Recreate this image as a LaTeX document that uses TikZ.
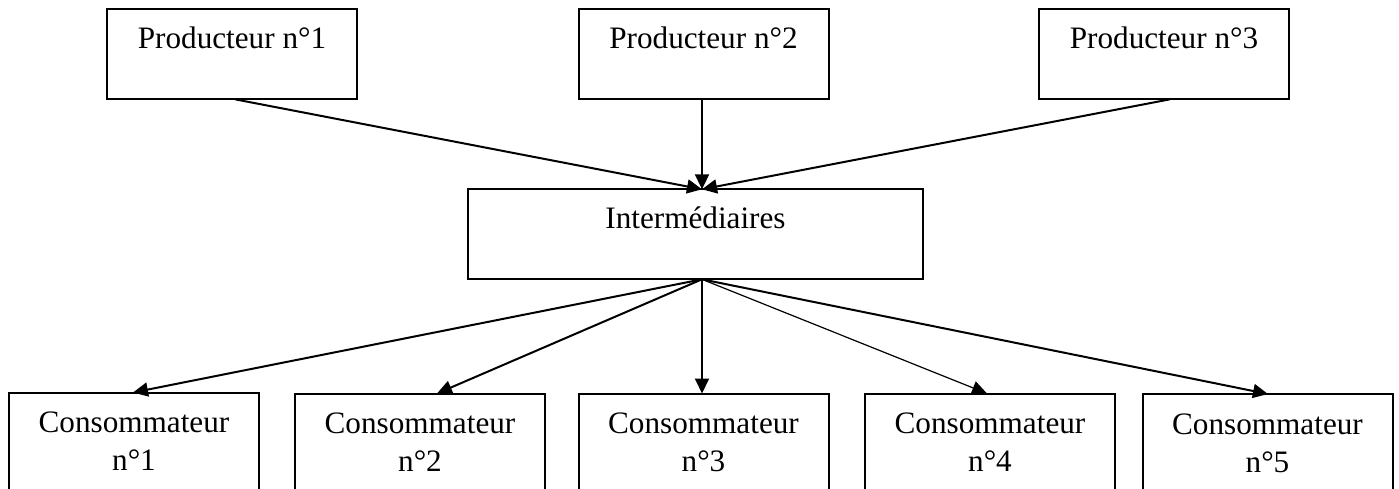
\documentclass[tikz,border=0pt]{standalone}
\usepackage{fontspec}
\setmainfont{Liberation Serif}
\usetikzlibrary{arrows.meta}
\begin{document}
\begin{tikzpicture}[x=0.5pt,y=-0.5pt,
  box/.style={draw, line width=1pt, inner sep=0pt, outer sep=0pt,
    minimum width=125pt, text height=19.5pt, text depth=25.5pt,
    font=\fontsize{15.6pt}{19.2pt}\selectfont, anchor=north},
  cbox/.style={box, text height=20pt, text depth=60pt},
  arr/.style={line width=1pt, -{Triangle[length=7.5pt,width=7pt]}}]
\useasboundingbox (0,0) rectangle (1399,488);
\clip (0,0) rectangle (1399,488);
% producers
\node[box] (p1) at (232,9.3) {Producteur n°1};
\node[box] (p2) at (703.5,9.3) {Producteur n°2};
\node[box] (p3) at (1164,9.3) {Producteur n°3};
% intermediaries
\node[box, minimum width=227.5pt] (inter) at (695.5,189.3) {Intermédiaires};
% consumers
\node[cbox] (c1) at (134,392.5) {\parbox[t]{120pt}{\centering Consommateur\\n°1}};
\node[cbox] (c2) at (420,393.5) {\parbox[t]{120pt}{\centering Consommateur\\n°2}};
\node[cbox] (c3) at (703.5,393.5) {\parbox[t]{120pt}{\centering Consommateur\\n°3}};
\node[cbox] (c4) at (990,393.5) {\parbox[t]{120pt}{\centering Consommateur\\n°4}};
\node[cbox] (c5) at (1267.5,394) {\parbox[t]{120pt}{\centering Consommateur\\n°5}};
% arrows to intermediaries
\draw[arr] ([xshift=1.5pt]p1.south) -- ([xshift=3.25pt]inter.north);
\draw[arr] ([xshift=-0.75pt]p2.south) -- ([xshift=3.25pt]inter.north);
\draw[arr] ([xshift=3pt]p3.south) -- ([xshift=3.25pt]inter.north);
% arrows to consumers
\draw[arr] ([xshift=3.25pt]inter.south) -- ([xshift=-0.5pt]c1.north);
\draw[arr] ([xshift=3.25pt]inter.south) -- ([xshift=8.5pt]c2.north);
\draw[arr] ([xshift=3.25pt]inter.south) -- ([xshift=-0.75pt]c3.north);
\draw[arr, line width=0.6pt] ([xshift=3.25pt]inter.south) -- ([xshift=-1.5pt]c4.north);
\draw[arr] ([xshift=3.25pt]inter.south) -- ([xshift=0.25pt]c5.north);
\end{tikzpicture}
\end{document}
